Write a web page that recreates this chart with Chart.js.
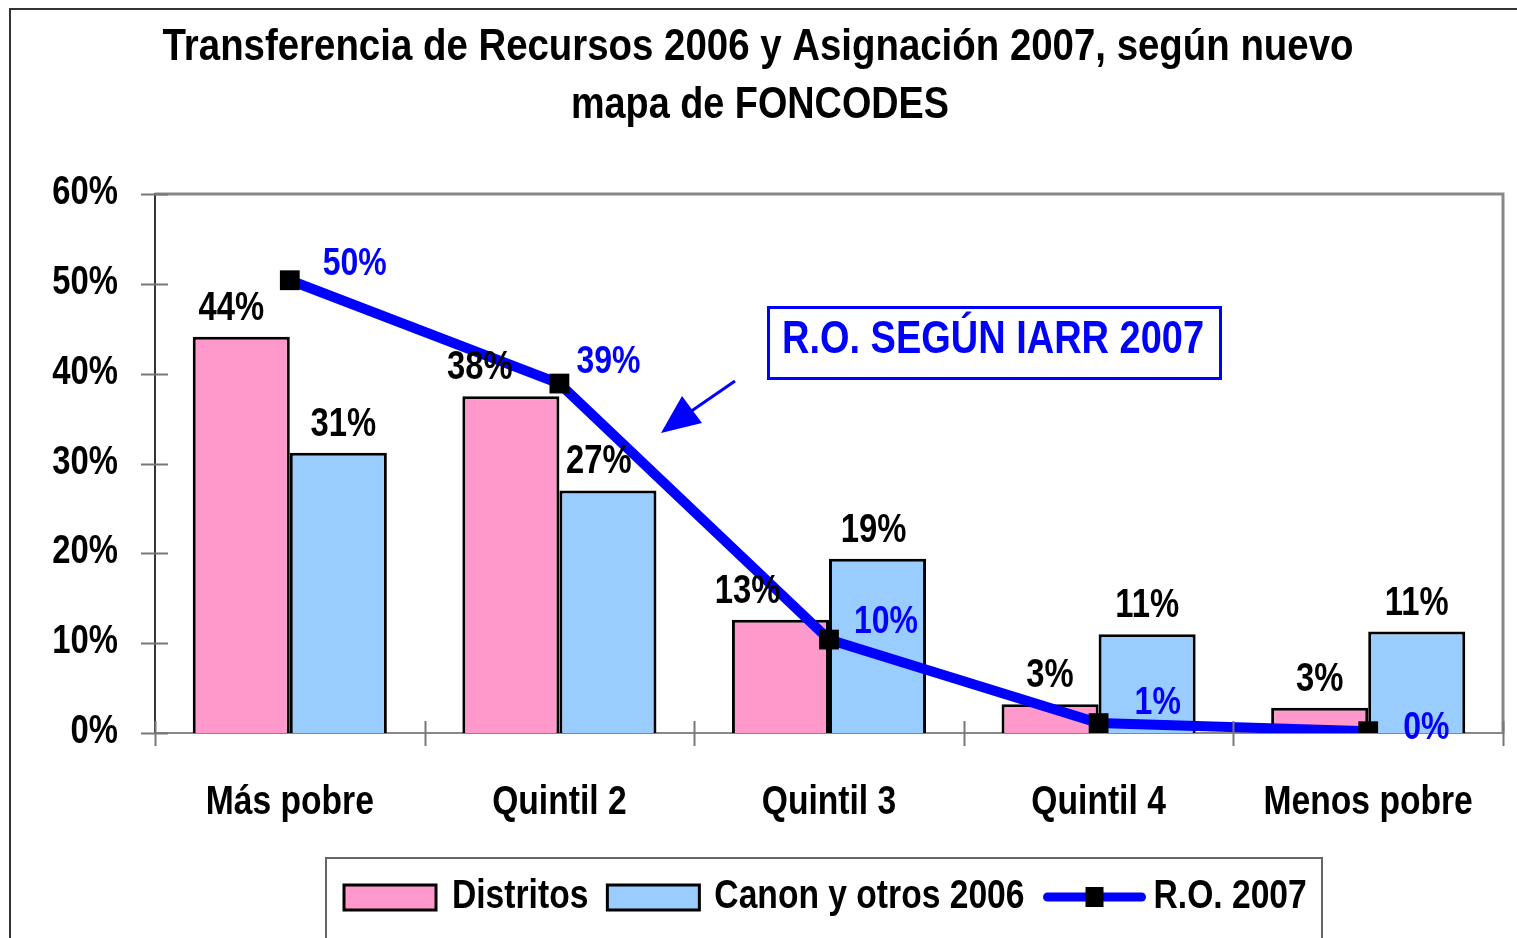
<!DOCTYPE html>
<html>
<head>
<meta charset="utf-8">
<script src="https://cdn.jsdelivr.net/npm/chart.js@4/dist/chart.umd.min.js"></script>
<style>
  body { margin: 0; background: #fff; }
  canvas { display: block; }
</style>
</head>
<body>
<canvas id="foncodesChart" width="1517" height="938"></canvas>
<script>
const categories = ['Más pobre', 'Quintil 2', 'Quintil 3', 'Quintil 4', 'Menos pobre'];
const distritos = [44.1, 37.5, 12.6, 3.2, 2.8];
const canon2006 = [31.2, 27.0, 19.4, 11.0, 11.3];
const ro2007 = [50.4, 38.9, 10.4, 1.1, 0.2];
const yTicks = [0, 10, 20, 30, 40, 50, 60];

const FONT = "'Liberation Sans', Arial, sans-serif";
const NARROW = 0.82;   // Arial Narrow look: squeeze Arial bold horizontally

// small nudges for the value labels (style only)
const pinkDx = [-10, -31, -33, 0, 0];
const blueDx = [5, -9, -4, 0, 0];
const lineDx = [33, 17, 25, 36, 35];
const lineDy = [-16, -21, -17, -20, -3];

// draws narrow bold text; if fitW given, squeeze to that width
function narrowText(ctx, text, x, y, size, color, align, baseline, fitW) {
    ctx.save();
    ctx.font = 'bold ' + size + 'px ' + FONT;
    ctx.fillStyle = color;
    ctx.textAlign = align;
    ctx.textBaseline = baseline;
    const sx = fitW ? fitW / ctx.measureText(text).width : NARROW;
    ctx.translate(x, y);
    ctx.scale(sx, 1);
    ctx.fillText(text, 0, 0);
    ctx.restore();
}

function narrowWidth(ctx, text, size) {
    ctx.save();
    ctx.font = 'bold ' + size + 'px ' + FONT;
    const w = ctx.measureText(text).width * NARROW;
    ctx.restore();
    return w;
}

const decorations = {
    id: 'decorations',
    beforeDatasetsDraw(chart) {
        const ctx = chart.ctx;
        const a = chart.chartArea;
        ctx.save();
        // plot area frame
        ctx.strokeStyle = '#888';
        ctx.lineWidth = 3;
        ctx.beginPath();
        ctx.moveTo(a.left, a.top);
        ctx.lineTo(a.right, a.top);
        ctx.lineTo(a.right, a.bottom);
        ctx.stroke();
        ctx.restore();
    },
    afterDraw(chart) {
        const ctx = chart.ctx;
        const a = chart.chartArea;
        const y = chart.scales.y;
        const x = chart.scales.x;
        const step = x.getPixelForValue(1) - x.getPixelForValue(0);
        ctx.save();

        // outer frame
        ctx.strokeStyle = '#333';
        ctx.lineWidth = 2;
        ctx.beginPath();
        ctx.moveTo(10, 938);
        ctx.lineTo(10, 9);
        ctx.lineTo(1517, 9);
        ctx.stroke();

        // y ticks crossing the axis + labels
        ctx.strokeStyle = '#777';
        ctx.lineWidth = 2;
        yTicks.forEach(v => {
            const py = Math.round(y.getPixelForValue(v)) + 0.5;
            ctx.beginPath();
            ctx.moveTo(a.left - 14, py);
            ctx.lineTo(a.left + 13, py);
            ctx.stroke();
            narrowText(ctx, v + '%', a.left - 37, py - 2, 40, '#000', 'right', 'middle');
        });
        // x ticks at category boundaries + labels
        for (let i = 0; i <= categories.length; i++) {
            const px = i < categories.length ? x.getPixelForValue(i) - step / 2 : a.right;
            ctx.beginPath();
            ctx.moveTo(Math.round(px) + 0.5, a.bottom - 12);
            ctx.lineTo(Math.round(px) + 0.5, a.bottom + 13);
            ctx.stroke();
        }
        categories.forEach((c, i) => {
            narrowText(ctx, c, x.getPixelForValue(i), a.bottom + 70, 41, '#000', 'center', 'middle');
        });

        // title
        narrowText(ctx, 'Transferencia de Recursos 2006 y Asignación 2007, según nuevo', 758, 48, 45, '#000', 'center', 'middle', 1191);
        narrowText(ctx, 'mapa de FONCODES', 760, 106, 45, '#000', 'center', 'middle', 378);

        // value labels on bars
        [[0, pinkDx], [1, blueDx]].forEach(([di, dx]) => {
            const meta = chart.getDatasetMeta(di);
            meta.data.forEach((bar, i) => {
                const v = chart.data.datasets[di].data[i];
                narrowText(ctx, Math.round(v) + '%', bar.x + dx[i], bar.y - 8, 40, '#000', 'center', 'bottom');
            });
        });

        // value labels on line
        chart.getDatasetMeta(2).data.forEach((pt, i) => {
            const v = chart.data.datasets[2].data[i];
            narrowText(ctx, Math.round(v) + '%', pt.x + lineDx[i], pt.y + lineDy[i], 39, '#0000FF', 'left', 'middle');
        });

        // annotation box
        ctx.strokeStyle = '#0000FF';
        ctx.fillStyle = '#0000FF';
        ctx.lineWidth = 3;
        ctx.strokeRect(768.5, 307.5, 452, 71);
        narrowText(ctx, 'R.O. SEGÚN IARR 2007', 993, 340, 46, '#0000FF', 'center', 'middle', 422);

        // arrow
        ctx.lineWidth = 3;
        ctx.beginPath();
        ctx.moveTo(735, 381);
        ctx.lineTo(690, 412);
        ctx.stroke();
        ctx.beginPath();
        ctx.moveTo(661, 433);
        ctx.lineTo(682, 396);
        ctx.lineTo(702, 423);
        ctx.closePath();
        ctx.fill();

        // legend
        ctx.strokeStyle = '#666';
        ctx.lineWidth = 2;
        ctx.strokeRect(326, 858, 996, 120);
        const ds = chart.data.datasets;
        const swW = [92, 92, 102];
        const gapAfterSw = [16, 15, 8];
        let lx = 344;
        const ly = 897;
        ds.forEach((d, i) => {
            if (d.type === 'line') {
                ctx.strokeStyle = d.borderColor;
                ctx.lineWidth = 9;
                ctx.lineCap = 'round';
                ctx.beginPath();
                ctx.moveTo(lx + 4, ly);
                ctx.lineTo(lx + swW[i] - 4, ly);
                ctx.stroke();
                ctx.fillStyle = '#000';
                ctx.fillRect(lx + swW[i] / 2 - 9, ly - 10, 18, 20);
            } else {
                ctx.fillStyle = d.backgroundColor;
                ctx.fillRect(lx, ly - 12, swW[i], 25);
                ctx.strokeStyle = '#000';
                ctx.lineWidth = 3;
                ctx.strokeRect(lx, ly - 12, swW[i], 25);
            }
            lx += swW[i] + gapAfterSw[i];
            narrowText(ctx, d.label, lx, ly, 41, '#000', 'left', 'middle');
            lx += narrowWidth(ctx, d.label, 41) + 19;
        });

        ctx.restore();
    }
};

const ctx = document.getElementById('foncodesChart').getContext('2d');
const myChart = new Chart(ctx, {
    type: 'bar',
    data: {
        labels: categories,
        datasets: [
            {
                label: 'Distritos',
                data: distritos,
                backgroundColor: '#FF99CC',
                borderColor: '#000',
                borderWidth: 3,
                categoryPercentage: 0.72,
                barPercentage: 1.0,
                order: 2
            },
            {
                label: 'Canon y otros 2006',
                data: canon2006,
                backgroundColor: '#99CCFF',
                borderColor: '#000',
                borderWidth: 3,
                categoryPercentage: 0.72,
                barPercentage: 1.0,
                order: 2
            },
            {
                type: 'line',
                label: 'R.O. 2007',
                data: ro2007,
                borderColor: '#0000FF',
                backgroundColor: '#000',
                borderWidth: 10,
                pointStyle: 'rect',
                pointRadius: 14,
                pointBackgroundColor: '#000',
                pointBorderColor: '#000',
                pointBorderWidth: 0,
                tension: 0,
                order: 1
            }
        ]
    },
    options: {
        responsive: false,
        animation: false,
        layout: {
            padding: { top: 194, right: 13, bottom: 0, left: 0 }
        },
        plugins: {
            legend: { display: false },
            title: { display: false },
            tooltip: { enabled: false }
        },
        scales: {
            x: {
                afterFit: function(scale) { scale.height = 205; },
                grid: { display: false, drawTicks: false },
                border: { display: true, color: '#888', width: 2 },
                ticks: { display: false }
            },
            y: {
                min: 0,
                max: 60,
                afterFit: function(scale) { scale.width = 155; },
                grid: { display: false, drawTicks: false },
                border: { display: true, color: '#333', width: 2 },
                ticks: { display: false, stepSize: 10 }
            }
        }
    },
    plugins: [decorations]
});
</script>
</body>
</html>
